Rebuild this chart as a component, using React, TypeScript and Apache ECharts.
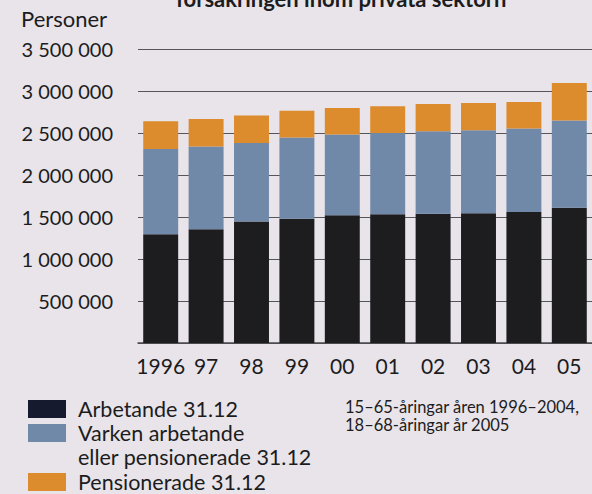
import React, { useEffect, useRef } from 'react';
import * as echarts from 'echarts';

const years = ['1996', '97', '98', '99', '00', '01', '02', '03', '04', '05'];
const arbetande = [1295000, 1355000, 1445000, 1480000, 1520000, 1533000, 1540000, 1545000, 1560000, 1610000];
const varken = [1016000, 984000, 937000, 966000, 962000, 968000, 981000, 988000, 993000, 1038000];
const pensionerade = [328000, 328000, 325000, 320000, 315000, 316000, 324000, 323000, 315000, 446000];

const seriesNames = ['Arbetande 31.12', 'Varken arbetande', 'Pensionerade 31.12'];
const extraLegendLine = 'eller pensionerade 31.12';
const noteLines = ['15–65-åringar åren 1996–2004,', '18–68-åringar år 2005'];
const yUnit = 'Personer';
const titleTail = 'försäkringen inom privata sektorn';

const FONT = 'Lato, "Open Sans", sans-serif';
const TEXT = '#1c1c1e';
const C_BLACK = '#1d1d20';
const C_BLUE = '#7189a9';
const C_ORANGE = '#dc8c2d';

const fmt = (v: number) => (v === 0 ? '' : String(v).replace(/\B(?=(\d{3})+(?!\d))/g, ' '));

export default function App() {
  const ref = useRef<HTMLDivElement>(null);
  useEffect(() => {
    if (!ref.current) return;
    const chart = echarts.init(ref.current, null, { renderer: 'svg' });
    const legendText = { color: TEXT, fontSize: 21.5, fontFamily: FONT, lineHeight: 20, padding: [0, 0, 0, 7] };
    chart.setOption({
      animation: false,
      backgroundColor: '#e8e4e9',
      textStyle: { fontFamily: FONT },
      grid: { left: 138, right: 0, top: 49, bottom: 151, containLabel: false },
      xAxis: {
        type: 'category',
        data: years,
        axisLine: { show: true, lineStyle: { color: '#4a4a4e', width: 1.5 } },
        axisTick: { show: false },
        axisLabel: { color: TEXT, fontSize: 21, fontFamily: FONT, margin: 12, interval: 0 },
      },
      yAxis: {
        type: 'value',
        min: 0,
        max: 3500000,
        interval: 500000,
        axisLine: { show: false },
        axisTick: { show: false },
        splitLine: { show: true, lineStyle: { color: '#55555a', width: 1.2 } },
        axisLabel: { color: TEXT, fontSize: 20, fontFamily: FONT, margin: 25, formatter: fmt },
      },
      legend: [
        {
          orient: 'vertical',
          left: 28,
          top: 398,
          padding: 0,
          itemWidth: 38,
          itemHeight: 18,
          itemGap: 2,
          selectedMode: false,
          icon: 'rect',
          textStyle: legendText,
          data: [
            { name: seriesNames[0], itemStyle: { color: '#151a2e' } },
            { name: seriesNames[1] },
          ],
        },
        {
          orient: 'vertical',
          left: 28,
          top: 471,
          padding: 0,
          itemWidth: 38,
          itemHeight: 18,
          selectedMode: false,
          icon: 'rect',
          textStyle: legendText,
          data: [{ name: seriesNames[2] }],
        },
      ],
      graphic: [
        {
          type: 'text',
          x: 176,
          y: 9,
          style: { text: titleTail, fill: TEXT, fontSize: 22, fontWeight: 'bold', fontFamily: FONT, verticalAlign: 'bottom' },
        },
        {
          type: 'text',
          x: 21,
          y: 18,
          style: { text: yUnit, fill: TEXT, fontSize: 22, fontFamily: FONT, verticalAlign: 'middle' },
        },
        {
          type: 'text',
          x: 78,
          y: 457,
          style: { text: extraLegendLine, fill: TEXT, fontSize: 21.5, fontFamily: FONT, verticalAlign: 'middle' },
        },
        {
          type: 'text',
          x: 345,
          y: 398,
          style: { text: noteLines.join('\n'), fill: TEXT, fontSize: 16.5, lineHeight: 18, fontFamily: FONT, verticalAlign: 'top' },
        },
      ],
      series: [
        { name: seriesNames[0], type: 'bar', stack: 'total', data: arbetande, barCategoryGap: '23%', itemStyle: { color: C_BLACK } },
        { name: seriesNames[1], type: 'bar', stack: 'total', data: varken, barCategoryGap: '23%', itemStyle: { color: C_BLUE } },
        { name: seriesNames[2], type: 'bar', stack: 'total', data: pensionerade, barCategoryGap: '23%', itemStyle: { color: C_ORANGE } },
      ],
    });
    return () => chart.dispose();
  }, []);
  return <div ref={ref} style={{ position: 'fixed', left: 0, top: 0, width: 592, height: 494 }} />;
}
